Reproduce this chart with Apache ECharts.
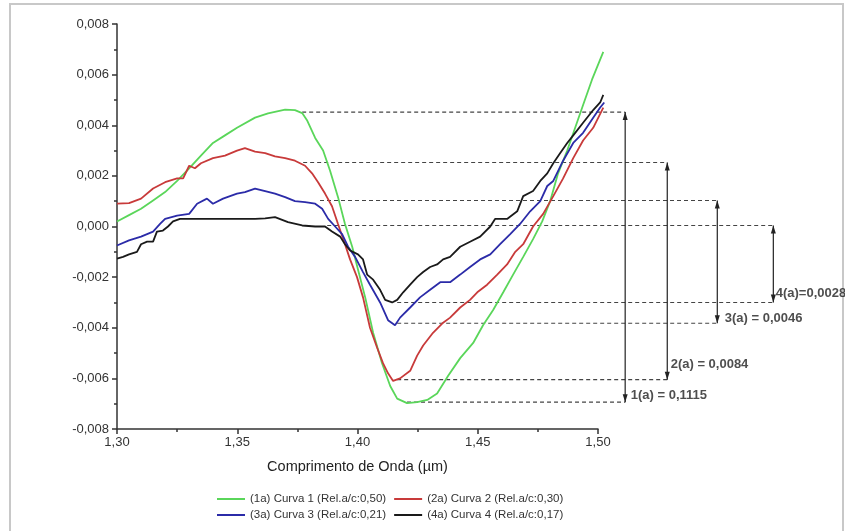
<!DOCTYPE html>
<html>
<head>
<meta charset="utf-8">
<script src="https://cdn.jsdelivr.net/npm/echarts@6/dist/echarts.min.js"></script>
<style>
    html, body { margin: 0; padding: 0; background: #fff; }
    #chart { width: 845px; height: 531px; }
</style>
</head>
<body>
<div id="chart"></div>
<script>
// curve data: [wavelength (µm), value]
const curveNames = [
    '(1a) Curva 1 (Rel.a/c:0,50)',
    '(2a) Curva 2 (Rel.a/c:0,30)',
    '(3a) Curva 3 (Rel.a/c:0,21)',
    '(4a) Curva 4 (Rel.a/c:0,17)',
]
const curveColors = ['#5ad65a', '#c83a3a', '#2b2ba8', '#1a1a1a']

const curve1 = [
    [1.3000, 0.0002], [1.3050, 0.00045], [1.3100, 0.0007], [1.3150, 0.00103], [1.3200, 0.00136],
    [1.3250, 0.0018], [1.3300, 0.0023], [1.3349, 0.0028], [1.3399, 0.0033], [1.3449, 0.0036],
    [1.3499, 0.0039], [1.3574, 0.0043], [1.3628, 0.00447], [1.3699, 0.00462], [1.3740, 0.0046],
    [1.3770, 0.00448], [1.3790, 0.0042], [1.3824, 0.0035], [1.3857, 0.0030], [1.3886, 0.0022],
    [1.3919, 0.00116], [1.3948, 0.0001], [1.3978, -0.0008], [1.4002, -0.0017], [1.4032, -0.0028],
    [1.4065, -0.0042], [1.4102, -0.0054], [1.4136, -0.0063], [1.4165, -0.0068], [1.4206, -0.00698],
    [1.4248, -0.00694], [1.4290, -0.00685], [1.4331, -0.0066], [1.4377, -0.0059], [1.4427, -0.0052],
    [1.4481, -0.0046], [1.4522, -0.0039], [1.4564, -0.0033], [1.4606, -0.0026], [1.4647, -0.0019],
    [1.4689, -0.0012], [1.4730, -0.0005], [1.4768, 0.0002], [1.4801, 0.0010], [1.4834, 0.0021],
    [1.4872, 0.0030], [1.4905, 0.0039], [1.4938, 0.0048], [1.4975, 0.0058], [1.5022, 0.0069],
]
const curve2 = [
    [1.3000, 0.0009], [1.3050, 0.00092], [1.3100, 0.0011], [1.3150, 0.0015], [1.3200, 0.00175],
    [1.3250, 0.0019], [1.3275, 0.0019], [1.3300, 0.0024], [1.3324, 0.0023], [1.3349, 0.0025],
    [1.3399, 0.0027], [1.3449, 0.0028], [1.3499, 0.0030], [1.3532, 0.0031], [1.3574, 0.00296],
    [1.3616, 0.0029], [1.3657, 0.00277], [1.3699, 0.0027], [1.3740, 0.0026], [1.3782, 0.0024],
    [1.3811, 0.0021], [1.3836, 0.00175], [1.3865, 0.0013], [1.3894, 0.0008], [1.3919, 0.0001],
    [1.3948, -0.0007], [1.3969, -0.0013], [1.3998, -0.0020], [1.4023, -0.0028], [1.4052, -0.0040],
    [1.4082, -0.0048], [1.4106, -0.0054], [1.4127, -0.0058], [1.4148, -0.0061], [1.4177, -0.0060],
    [1.4219, -0.0057], [1.4248, -0.0051], [1.4273, -0.0047], [1.4314, -0.0042], [1.4356, -0.0038],
    [1.4385, -0.0036], [1.4427, -0.0032], [1.4468, -0.0029], [1.4498, -0.0026], [1.4539, -0.0023],
    [1.4581, -0.0019], [1.4622, -0.0015], [1.4656, -0.0010], [1.4689, -0.0007], [1.4730, 0.0000],
    [1.4772, 0.0005], [1.4814, 0.0012], [1.4855, 0.0019], [1.4897, 0.0027], [1.4938, 0.0034],
    [1.4980, 0.0039], [1.5022, 0.0047],
]
const curve3 = [
    [1.3000, -0.00075], [1.3050, -0.00055], [1.3100, -0.0004], [1.3150, -0.0002], [1.3179, 0.0001],
    [1.3200, 0.0003], [1.3250, 0.00043], [1.3300, 0.0005], [1.3333, 0.0009], [1.3374, 0.0011],
    [1.3399, 0.0009], [1.3441, 0.0011], [1.3499, 0.0013], [1.3532, 0.00136], [1.3574, 0.0015],
    [1.3616, 0.0014], [1.3657, 0.0013], [1.3699, 0.00116], [1.3740, 0.0010], [1.3782, 0.00096],
    [1.3824, 0.0009], [1.3853, 0.0007], [1.3878, 0.0003], [1.3907, 0.0000], [1.3936, -0.0003],
    [1.3961, -0.0008], [1.3990, -0.0012], [1.4023, -0.0018], [1.4052, -0.0023], [1.4094, -0.0030],
    [1.4127, -0.0037], [1.4156, -0.0039], [1.4177, -0.0036], [1.4219, -0.0032], [1.4260, -0.0028],
    [1.4302, -0.0025], [1.4344, -0.0022], [1.4385, -0.0022], [1.4427, -0.0019], [1.4468, -0.0016],
    [1.4510, -0.0013], [1.4552, -0.0011], [1.4593, -0.0007], [1.4635, -0.0003], [1.4676, 0.0001],
    [1.4718, 0.0006], [1.4760, 0.0010], [1.4789, 0.0016], [1.4814, 0.0018], [1.4855, 0.0026],
    [1.4897, 0.0033], [1.4938, 0.0037], [1.4980, 0.0043], [1.5009, 0.0047], [1.5026, 0.0049],
]
const curve4 = [
    [1.3000, -0.00127], [1.3025, -0.0012], [1.3050, -0.0011], [1.3083, -0.0010], [1.3100, -0.0007],
    [1.3125, -0.0006], [1.3150, -0.0006], [1.3166, -0.0002], [1.3191, -0.00016], [1.3212, 0.0000],
    [1.3233, 0.0002], [1.3262, 0.0003], [1.3345, 0.0003], [1.3428, 0.0003], [1.3512, 0.0003],
    [1.3574, 0.0003], [1.3616, 0.00032], [1.3657, 0.00037], [1.3711, 0.00017], [1.3770, 0.00004],
    [1.3824, 0.0000], [1.3865, 0.0000], [1.3894, -0.0002], [1.3928, -0.0004], [1.3948, -0.0007],
    [1.3969, -0.00095], [1.4002, -0.0011], [1.4023, -0.0013], [1.4040, -0.0019], [1.4065, -0.0021],
    [1.4094, -0.0025], [1.4115, -0.0029], [1.4144, -0.0030], [1.4165, -0.0029], [1.4190, -0.0026],
    [1.4219, -0.0023], [1.4248, -0.0020], [1.4273, -0.0018], [1.4302, -0.0016], [1.4331, -0.0015],
    [1.4356, -0.0013], [1.4385, -0.0012], [1.4427, -0.0008], [1.4468, -0.0006], [1.4510, -0.0004],
    [1.4552, 0.0000], [1.4572, 0.0003], [1.4622, 0.0003], [1.4664, 0.0006], [1.4689, 0.0012],
    [1.4730, 0.0014], [1.4760, 0.0018], [1.4789, 0.0021], [1.4814, 0.0025], [1.4843, 0.0029],
    [1.4872, 0.0033], [1.4897, 0.0036], [1.4938, 0.0041], [1.4980, 0.0046], [1.5009, 0.0049],
    [1.5022, 0.0052],
]
const curves = [curve1, curve2, curve3, curve4]

// amplitude annotations (dashed levels + double arrows), in data units
const annotLabels = ['1(a) = 0,1115', '2(a) = 0,0084', '3(a) = 0,0046', '4(a)=0,0028']
const annotTop = [0.00452, 0.00253, 0.00103, 0.00004]
const annotBottom = [-0.00694, -0.00605, -0.00382, -0.0030]
const annotArrowX = [1.5113, 1.5288, 1.5496, 1.5729]
const annotTopStart = [1.3770, 1.3774, 1.3844, 1.3874]
const annotBottomStart = [1.4206, 1.4165, 1.4165, 1.4165]
const annotLabelPos = [[1.5134, -0.00668], [1.5300, -0.00545], [1.5525, -0.00364], [1.5737, -0.00265]]

const font = '"Liberation Sans", Arial, sans-serif'
const comma = (d) => (v) => v.toFixed(d).replace('.', ',')

// plot box; a second, invisible grid with the same scale runs to the right edge
// so the annotations (which sit right of 1,50) are not clipped
const W = 845
const gridLeft = 117
const gridRight = 247
const xMin = 1.30
const xMax = 1.50
const pxPerUnit = (W - gridLeft - gridRight) / (xMax - xMin)
const xMaxWide = xMin + (W - gridLeft) / pxPerUnit

const chart = echarts.init(document.getElementById('chart'))

const series = []

annotTop.forEach((top, i) => {
    const dashStyle = { color: '#444', width: 1.1, type: [4, 3] }
    series.push({
        type: 'line', silent: true, symbol: 'none', z: 1,
        xAxisIndex: 1, yAxisIndex: 1,
        lineStyle: dashStyle,
        data: [[annotTopStart[i], top], [annotArrowX[i], top]],
    })
    series.push({
        type: 'line', silent: true, symbol: 'none', z: 1,
        xAxisIndex: 1, yAxisIndex: 1,
        lineStyle: dashStyle,
        data: [[annotBottomStart[i], annotBottom[i]], [annotArrowX[i], annotBottom[i]]],
    })
    // double arrow
    series.push({
        type: 'line', silent: true, z: 2,
        xAxisIndex: 1, yAxisIndex: 1,
        symbol: 'triangle', symbolSize: [5, 8], showSymbol: true,
        itemStyle: { color: '#222' },
        lineStyle: { color: '#222', width: 1.2 },
        data: [
            { value: [annotArrowX[i], top], symbolRotate: 0, symbolOffset: [0, 4] },
            { value: [annotArrowX[i], annotBottom[i]], symbolRotate: 180, symbolOffset: [0, -4] },
        ],
    })
})

series.push({
    type: 'scatter', silent: true, symbolSize: 1, z: 4,
    xAxisIndex: 1, yAxisIndex: 1,
    itemStyle: { color: 'rgba(0,0,0,0)' },
    label: {
        show: true, position: 'right', distance: 0, formatter: '{b}',
        fontFamily: font, fontSize: 13, fontWeight: 'bold', color: '#222',
    },
    data: annotLabelPos.map((p, i) => ({ name: annotLabels[i], value: p })),
})

curves.forEach((c, i) => {
    series.push({
        name: curveNames[i],
        type: 'line',
        data: c,
        xAxisIndex: 1, yAxisIndex: 1,
        symbol: 'none',
        z: 3,
        itemStyle: { color: curveColors[i] },
        lineStyle: { color: curveColors[i], width: 1.8 },
    })
})

const legendBase = {
    left: 212,
    icon: 'rect',
    itemWidth: 28,
    itemHeight: 2,
    itemGap: 8,
    textStyle: { fontFamily: font, fontSize: 11.5, color: '#333' },
}

const axisColor = '#333'

chart.setOption({
    animation: false,
    backgroundColor: '#fff',
    textStyle: { fontFamily: font },
    grid: [
        { left: gridLeft, right: gridRight, top: 24, bottom: 102 },
        { left: gridLeft, right: 0, top: 24, bottom: 102 },
    ],
    legend: [
        Object.assign({ top: 488, data: [curveNames[0], curveNames[1]] }, legendBase),
        Object.assign({ top: 504, data: [curveNames[2], curveNames[3]] }, legendBase),
    ],
    xAxis: [
        {
            type: 'value',
            min: xMin,
            max: xMax,
            interval: 0.05,
            name: 'Comprimento de Onda (µm)',
            nameLocation: 'middle',
            nameGap: 30,
            nameTextStyle: { fontFamily: font, fontSize: 14.5, color: '#222' },
            axisLine: { show: true, onZero: false, lineStyle: { color: axisColor, width: 1.5 } },
            axisTick: { show: true, length: 5, lineStyle: { color: axisColor, width: 1.5 } },
            minorTick: { show: true, splitNumber: 2, length: 3, lineStyle: { color: axisColor, width: 1.5 } },
            splitLine: { show: false },
            axisLabel: { formatter: comma(2), fontSize: 13, color: '#333', margin: 7 },
        },
        { type: 'value', gridIndex: 1, min: xMin, max: xMaxWide, show: false },
    ],
    yAxis: [
        {
            type: 'value',
            min: -0.008,
            max: 0.008,
            interval: 0.002,
            axisLine: { show: true, onZero: false, lineStyle: { color: axisColor, width: 1.5 } },
            axisTick: { show: true, length: 5, lineStyle: { color: axisColor, width: 1.5 } },
            minorTick: { show: true, splitNumber: 2, length: 3, lineStyle: { color: axisColor, width: 1.5 } },
            splitLine: { show: false },
            axisLabel: { formatter: comma(3), fontSize: 13, color: '#333', margin: 8 },
        },
        { type: 'value', gridIndex: 1, min: -0.008, max: 0.008, show: false },
    ],
    graphic: [
        {
            type: 'rect',
            silent: true,
            shape: { x: 10, y: 4, width: 833, height: 600 },
            style: { fill: 'none', stroke: '#c8c8c8', lineWidth: 2 },
        },
    ],
    series: series,
})
</script>
</body>
</html>
